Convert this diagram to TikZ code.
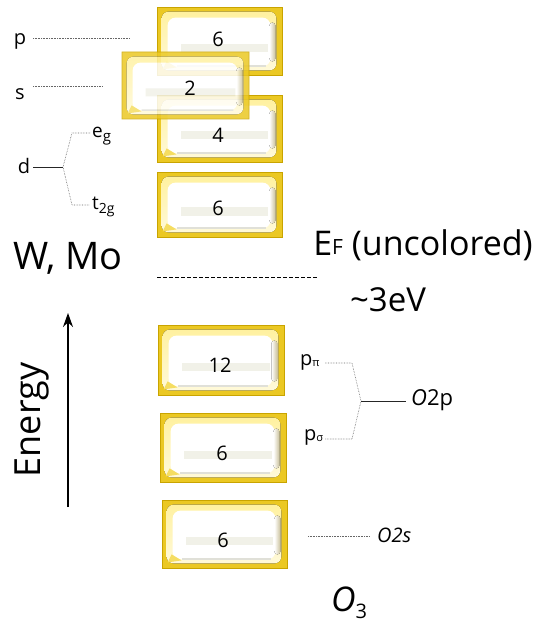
\documentclass[tikz,border=0pt]{standalone}
\usepackage{fontspec}
\setmainfont{Open Sans}
\usetikzlibrary{calc,arrows.meta}
\definecolor{gold}{HTML}{EBC823}
\definecolor{golddark}{HTML}{C9A400}
\definecolor{glow}{HTML}{FFF1A0}
\definecolor{bandgray}{HTML}{F1F1E8}
\definecolor{shadeol}{HTML}{C9C09A}
\newcommand\fs[1]{\fontsize{#1}{#1}\selectfont}
\newcommand\goldbox[5]{%
  \node[gbox, minimum width=#4pt, minimum height=#5pt] (#1) at (#2,#3) {};
  \fill[rounded corners=7pt, top color=glow, bottom color=glow!40!white] ($(#1.north west)+(5,5)$) rectangle ($(#1.south east)+(-6,-5)$);
  \fill[white, rounded corners=8pt] ($(#1.north west)+(11,11)$) rectangle ($(#1.south east)+(-12,-9)$);
  \fill[bandgray] ($(#1.west)+(24,3)$) rectangle ($(#1.east)+(-14,11)$);
  \fill[bandgray!85!gray] ($(#1.south west)+(20,-10)$) rectangle ($(#1.south east)+(-16,-8.5)$);
  \fill[left color=white, right color=shadeol, rounded corners=3pt] ($(#1.north east)+(-13,16)$) rectangle ($(#1.south east)+(-7,-14)$);
  \fill[glow!50!gold] ($(#1.south west)+(6,-6)$) -- ($(#1.south west)+(20,-8)$) -- ($(#1.south west)+(10,-14)$) -- cycle;
}
\tikzset{
  gbox/.style={draw=golddark, line width=0.8pt, fill=gold, inner sep=0pt},
  num/.style={font=\fs{20}, inner sep=0pt},
  lbl/.style={font=\fs{20}, inner sep=0pt},
  dotline/.style={densely dotted, gray!80!black, line width=0.6pt},
  solidline/.style={black!85, line width=0.6pt},
}
\begin{document}
\begin{tikzpicture}[x=1pt, y=-1pt]
\path[use as bounding box] (0,0) rectangle (547,628);
% W, Mo boxes
\goldbox{b1}{219.5}{41}{125}{68}
\goldbox{b3}{219.5}{128.5}{125}{67}
\begin{scope}[transparency group, opacity=0.85]
\goldbox{b2}{185.5}{85.5}{127}{67}
\end{scope}
\goldbox{b4}{219.5}{204.5}{125}{65}
\node[num] (n1) at (218,39.5) {6};
\node[num] (n2) at (190,88) {2};
\node[num] (n3) at (218,135) {4};
\node[num] (n4) at (218,208) {6};
% O boxes
\goldbox{b5}{221}{360}{126}{70}
\goldbox{b6}{223}{447.5}{126}{69}
\goldbox{b7}{224.5}{534}{125}{68}
\node[num] (n5) at (220,365) {12};
\node[num] (n6) at (222,453) {6};
\node[num] (n7) at (223,540) {6};
% left labels
\node[lbl] (p) at (20,41) {p};
\node[lbl] (s) at (20,94) {s};
\node[lbl] (d) at (24,166) {d};
\node[font=\fs{19}, inner sep=0pt, anchor=west] (eg) at (92,136) {e\raisebox{-4pt}{\fs{15}g}};
\node[font=\fs{19}, inner sep=0pt, anchor=west] (t2g) at (92,207) {t\raisebox{-4pt}{\fs{14}2g}};
\coordinate (pa) at (33,38); \coordinate (pb) at (130,38);
\coordinate (sa) at (33,86); \coordinate (sb) at (103,86);
\coordinate (da) at (33,167); \coordinate (dj) at (63,167);
\coordinate (eg1) at (72,133); \coordinate (eg2) at (90,133);
\coordinate (tg1) at (72,205); \coordinate (tg2) at (90,205);
\draw[dotline] (pa) -- (pb);
\draw[dotline] (sa) -- (sb);
\draw[solidline] (da) -- (dj);
\draw[dotline] (eg2) -- (eg1) -- (dj) -- (tg1) -- (tg2);
% big labels
\node[font=\fs{38}, inner sep=0pt] (wmo) at (68,258) {W, Mo};
\node[font=\fs{34}, inner sep=0pt] (ef) at (423,245) {E\raisebox{1pt}{\fs{21}F} (uncolored)};
\node[font=\fs{33}, inner sep=0pt] (ev) at (388,300) {\textasciitilde 3eV};
\coordinate (fa) at (157,277); \coordinate (fb) at (317,277);
\draw[dash pattern=on 4pt off 2pt, line width=0.8pt] (fa) -- (fb);
% energy arrow
\coordinate (ea) at (68,507); \coordinate (eb) at (68,313);
\draw[line width=1.2pt, -{Stealth[length=14pt, width=10pt]}] (ea) -- (eb);
\node[font=\fs{36}, inner sep=0pt, rotate=90] (energy) at (32,420) {Energy};
% O labels
\node[lbl, anchor=west] (ppi) at (300,362) {p\raisebox{-1pt}{\fs{11}π}};
\node[lbl, anchor=west] (psig) at (304,437) {p\raisebox{-1pt}{\fs{11}σ}};
\node[font=\fs{22}, inner sep=0pt, anchor=west] (o2p) at (411,400) {\textit{O}2p};
\coordinate (pp1) at (325,363); \coordinate (pp2) at (352,363);
\coordinate (oj) at (361,401); \coordinate (oe) at (406,401);
\coordinate (ps1) at (325,439); \coordinate (ps2) at (352,439);
\draw[dotline] (pp1) -- (pp2) -- (oj) -- (ps2) -- (ps1);
\draw[solidline] (oj) -- (oe);
\node[font=\fs{20}, inner sep=0pt, anchor=west] (o2s) at (377,535) {\textit{O2s}};
\coordinate (sa2) at (308,536); \coordinate (sb2) at (370,536);
\draw[dotline] (sa2) -- (sb2);
\node[font=\fs{34}, inner sep=0pt] (o3) at (349,603) {\textit{O}\raisebox{-7pt}{\fs{20}3}};
\end{tikzpicture}
\end{document}
